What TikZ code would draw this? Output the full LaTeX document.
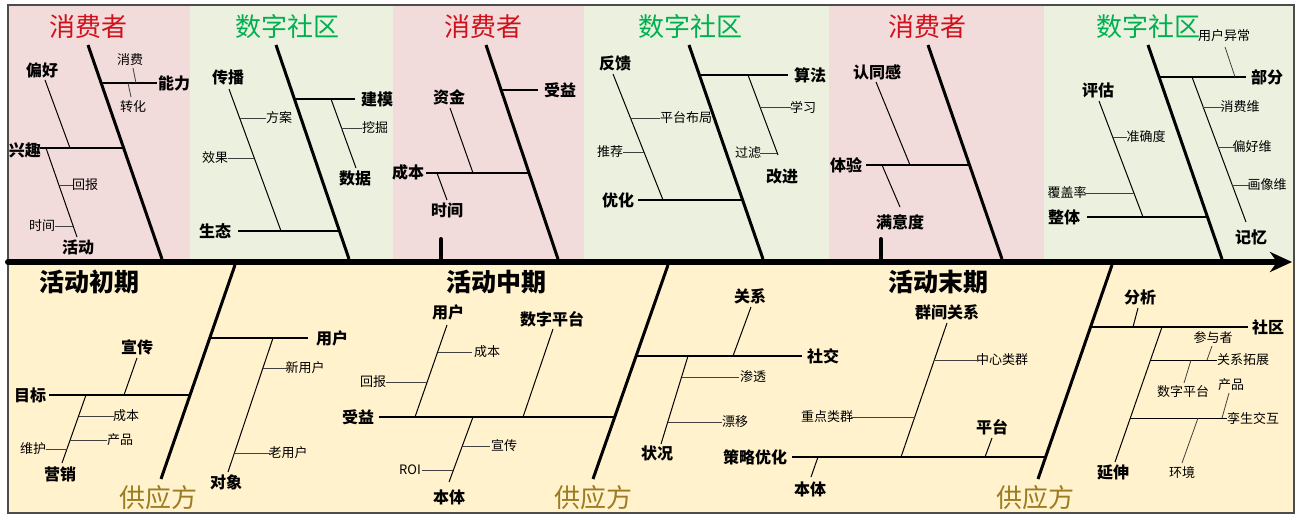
\documentclass[tikz,border=0pt]{standalone}
\usepackage{fontspec}
\setmainfont{Noto Sans CJK SC}
\usetikzlibrary{arrows.meta}
\definecolor{pinkbg}{HTML}{F2DCDB}
\definecolor{greenbg}{HTML}{EBF1DE}
\definecolor{yellowbg}{HTML}{FFF2CC}
\definecolor{redt}{HTML}{D0101A}
\definecolor{greent}{HTML}{00B050}
\definecolor{goldt}{HTML}{9C7C22}
\tikzset{
 bone/.style={line width=3pt},
 br/.style={line width=1.8pt},
 tw/.style={line width=1pt},
 lf/.style={line width=0.8pt, draw=black!75},
 L/.style={font=\bfseries\fontsize{16}{18}\selectfont, inner sep=1pt},
 S/.style={font=\fontsize{13}{15}\selectfont, inner sep=1pt},
 T/.style={font=\fontsize{26}{28}\selectfont, inner sep=0pt},
 P/.style={font=\bfseries\fontsize{25}{27}\selectfont, inner sep=0pt},
}
\begin{document}
\begin{tikzpicture}[x=1pt,y=-1pt]
\useasboundingbox (0,0) rectangle (1298,516);
% backgrounds
\fill[pinkbg] (8,5) rectangle (190,262);
\fill[greenbg] (190,5) rectangle (393,262);
\fill[pinkbg] (393,5) rectangle (584,262);
\fill[greenbg] (584,5) rectangle (829,262);
\fill[pinkbg] (829,5) rectangle (1044,262);
\fill[greenbg] (1044,5) rectangle (1294,262);
\fill[yellowbg] (8,262) rectangle (1294,513);
\draw[black!70, line width=1.2pt] (8,5) rectangle (1294,513);

% ===== section 1 : 消费者 =====
\node[T,text=redt] (t1) at (88,27) {消费者};
\draw[bone] (88,45) -- (162,259);
\draw[br] (101,83) -- (157,83);
\node[L] (a1) at (174,83) {能力};
\node[S] (a2) at (130,60) {消费};
\draw[lf] (133,68) -- (136,83);
\node[S] (a3) at (133,107) {转化};
\draw[lf] (128,83) -- (131,97);
\draw[br] (40,148) -- (124,148);
\node[L] (a4) at (25,150) {兴趣};
\node[L] (a5) at (42,70) {偏好};
\draw[tw] (45,80) -- (70,148);
\draw[tw] (46,148) -- (77,237);
\node[L] (a6) at (78,247) {活动};
\node[S] (a7) at (85,185) {回报};
\draw[lf] (60,185) -- (73,185);
\node[S] (a8) at (42,226) {时间};
\draw[lf] (55,226) -- (73,226);

% ===== section 2 : 数字社区 =====
\node[T,text=greent] (t2) at (287,27) {数字社区};
\draw[bone] (276,45) -- (349,259);
\draw[br] (294,99) -- (355,99);
\node[L] (b1) at (377,99) {建模};
\draw[tw] (331,99) -- (356,168);
\node[L] (b2) at (355,178) {数据};
\node[S] (b3) at (375,128) {挖掘};
\draw[lf] (341,128) -- (362,128);
\draw[br] (238,231) -- (339,231);
\node[L] (b4) at (215,231) {生态};
\node[L] (b5) at (228,77) {传播};
\draw[tw] (229,89) -- (281,231);
\node[S] (b6) at (279,118) {方案};
\draw[lf] (240,118) -- (266,118);
\node[S] (b7) at (215,158) {效果};
\draw[lf] (228,158) -- (254,158);

% ===== section 3 : 消费者 =====
\node[T,text=redt] (t3) at (483,27) {消费者};
\draw[bone] (486,45) -- (558,259);
\draw[br] (501,90) -- (538,90);
\node[L] (c1) at (560,90) {受益};
\draw[br] (426,173) -- (529,173);
\node[L] (c2) at (408,172) {成本};
\node[L] (c3) at (449,97) {资金};
\draw[tw] (450,108) -- (473,173);
\draw[tw] (437,173) -- (447,200);
\node[L] (c4) at (447,210) {时间};
\draw[line width=4pt, line cap=round] (441,239) -- (441,262);

% ===== section 4 : 数字社区 =====
\node[T,text=greent] (t4) at (690,27) {数字社区};
\draw[bone] (689,45) -- (763,259);
\draw[br] (699,75) -- (788,75);
\node[L] (d1) at (810,75) {算法};
\draw[tw] (748,75) -- (778,155);
\node[L] (d2) at (782,176) {改进};
\node[S] (d3) at (803,107) {学习};
\draw[lf] (760,107) -- (791,107);
\node[S] (d4) at (748,153) {过滤};
\draw[lf] (760,153) -- (777,153);
\draw[br] (638,200) -- (743,200);
\node[L] (d5) at (618,200) {优化};
\node[L] (d6) at (615,63) {反馈};
\draw[tw] (613,74) -- (663,200);
\node[S] (d7) at (686,118) {平台布局};
\draw[lf] (630,118) -- (660,118);
\node[S] (d8) at (610,152) {推荐};
\draw[lf] (623,152) -- (644,152);

% ===== section 5 : 消费者 =====
\node[T,text=redt] (t5) at (927,27) {消费者};
\draw[bone] (928,45) -- (1002,259);
\draw[br] (866,165) -- (970,165);
\node[L] (e1) at (846,165) {体验};
\node[L] (e2) at (877,72) {认同感};
\draw[tw] (876,82) -- (910,165);
\draw[tw] (882,165) -- (900,207);
\node[L] (e3) at (900,222) {满意度};
\draw[line width=4pt, line cap=round] (881,239) -- (881,262);

% ===== section 6 : 数字社区 =====
\node[T,text=greent] (t6) at (1148,27) {数字社区};
\node[S] (f0) at (1224,36) {用户异常};
\draw[bone] (1148,45) -- (1222,259);
\draw[br] (1159,77) -- (1246,77);
\node[L] (f1) at (1267,77) {部分};
\draw[lf] (1225,47) -- (1235,77);
\draw[tw] (1192,77) -- (1246,222);
\node[L] (f2) at (1251,237) {记忆};
\node[S] (f3) at (1240,107) {消费维};
\draw[lf] (1203,107) -- (1224,107);
\node[S] (f4) at (1252,147) {偏好维};
\draw[lf] (1218,147) -- (1236,147);
\node[S] (f5) at (1267,185) {画像维};
\draw[lf] (1232,185) -- (1250,185);
\draw[br] (1087,217) -- (1207,217);
\node[L] (f6) at (1064,217) {整体};
\node[L] (f7) at (1098,90) {评估};
\draw[tw] (1099,101) -- (1143,217);
\node[S] (f8) at (1146,137) {准确度};
\draw[lf] (1113,137) -- (1127,137);
\node[S] (f9) at (1067,193) {覆盖率};
\draw[lf] (1085,193) -- (1134,193);

% ===== spine =====
\draw[line width=6pt, line cap=round, -{Stealth[length=22pt,width=20pt,inset=7pt]}] (8,262) -- (1292,262);

% ===== bottom 1 : 活动初期 =====
\node[P] (g0) at (89,282) {活动初期};
\draw[bone] (235,265) -- (161,479);
\node[T,text=goldt] (g1) at (158,498) {供应方};
\draw[br] (210,338) -- (308,338);
\node[L] (g2) at (332,338) {用户};
\draw[tw] (273,338) -- (228,472);
\node[L] (g3) at (226,482) {对象};
\node[S] (g4) at (305,368) {新用户};
\draw[lf] (263,368) -- (288,368);
\node[S] (g5) at (288,453) {老用户};
\draw[lf] (235,453) -- (270,453);
\draw[br] (49,395) -- (190,395);
\node[L] (g6) at (30,395) {目标};
\node[L] (g7) at (137,347) {宣传};
\draw[tw] (137,358) -- (124,395);
\draw[tw] (86,395) -- (62,463);
\node[L] (g8) at (60,474) {营销};
\node[S] (g9) at (126,416) {成本};
\draw[lf] (79,416) -- (114,416);
\node[S] (g10) at (120,440) {产品};
\draw[lf] (70,440) -- (107,440);
\node[S] (g11) at (33,449) {维护};
\draw[lf] (46,449) -- (67,449);

% ===== bottom 2 : 活动中期 =====
\node[P] (h0) at (496,282) {活动中期};
\draw[bone] (668,265) -- (593,479);
\node[T,text=goldt] (h1) at (593,498) {供应方};
\draw[br] (379,417) -- (615,417);
\node[L] (h2) at (358,417) {受益};
\node[L] (h3) at (448,312) {用户};
\draw[tw] (447,325) -- (415,417);
\node[S] (h4) at (487,352) {成本};
\draw[lf] (438,352) -- (472,352);
\node[S] (h5) at (373,382) {回报};
\draw[lf] (386,382) -- (427,382);
\node[L] (h6) at (552,319) {数字平台};
\draw[tw] (553,329) -- (523,417);
\draw[tw] (473,417) -- (449,482);
\node[L] (h7) at (449,497) {本体};
\node[S] (h8) at (504,446) {宣传};
\draw[lf] (462,446) -- (490,446);
\node[S] (h9) at (410,470) {ROI};
\draw[lf] (422,470) -- (453,470);
\draw[br] (636,356) -- (802,356);
\node[L] (h10) at (823,356) {社交};
\node[L] (h11) at (750,296) {关系};
\draw[tw] (751,307) -- (733,356);
\draw[tw] (688,356) -- (661,444);
\node[L] (h12) at (657,453) {状况};
\node[S] (h13) at (753,377) {渗透};
\draw[lf] (682,377) -- (739,377);
\node[S] (h14) at (735,422) {漂移};
\draw[lf] (668,422) -- (722,422);

% ===== bottom 3 : 活动末期 =====
\node[P] (k0) at (938,282) {活动末期};
\draw[bone] (1112,265) -- (1038,479);
\node[T,text=goldt] (k1) at (1035,498) {供应方};
\draw[br] (792,457) -- (1046,457);
\node[L] (k2) at (755,457) {策略优化};
\draw[tw] (818,457) -- (811,477);
\node[L] (k3) at (810,489) {本体};
\node[L] (k4) at (947,312) {群间关系};
\draw[tw] (947,323) -- (901,457);
\node[S] (k5) at (1002,360) {中心类群};
\draw[lf] (934,360) -- (977,360);
\node[S] (k6) at (827,417) {重点类群};
\draw[lf] (851,417) -- (915,417);
\node[L] (k7) at (992,427) {平台};
\draw[tw] (992,438) -- (985,457);
\draw[br] (1091,327) -- (1248,327);
\node[L] (k8) at (1268,327) {社区};
\node[L] (k9) at (1140,297) {分析};
\draw[tw] (1138,308) -- (1133,327);
\draw[tw] (1162,327) -- (1115,462);
\node[L] (k10) at (1113,472) {延伸};
\draw[tw] (1151,360) -- (1217,360);
\node[S] (k11) at (1243,360) {关系拓展};
\node[S] (k12) at (1213,338) {参与者};
\draw[lf] (1212,346) -- (1207,360);
\node[S] (k13) at (1183,392) {数字平台};
\draw[lf] (1191,360) -- (1184,383);
\draw[tw] (1130,418) -- (1227,418);
\node[S] (k14) at (1253,418) {孪生交互};
\node[S] (k15) at (1231,385) {产品};
\draw[lf] (1229,393) -- (1222,418);
\node[S] (k16) at (1182,473) {环境};
\draw[lf] (1198,418) -- (1182,463);
\end{tikzpicture}
\end{document}
